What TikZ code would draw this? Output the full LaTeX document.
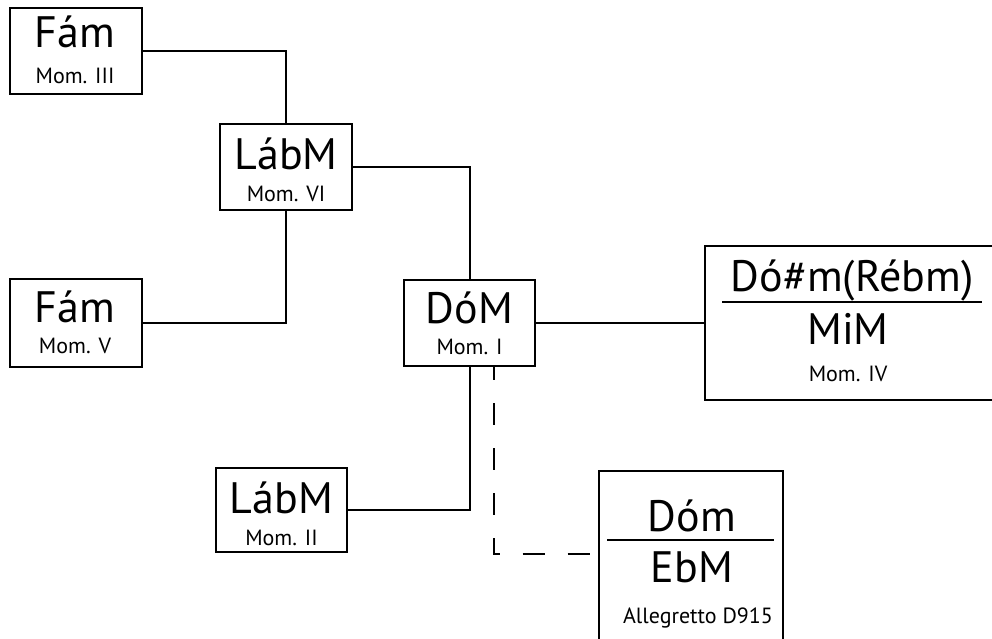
\documentclass[tikz,border=0pt]{standalone}
\usepackage{fontspec}
\setmainfont{PT Sans}
\newcommand{\keytext}{\fontsize{44}{50}\selectfont}
\newcommand{\momtext}{\fontsize{22}{26}\selectfont}
\begin{document}
\begin{tikzpicture}[x=1pt,y=-1pt,
  box/.style={draw, line width=2pt, inner sep=0pt},
  key/.style={inner sep=0pt, anchor=base, font=\keytext},
  mom/.style={inner sep=0pt, anchor=base, font=\momtext},
  link/.style={line width=2pt}]
  \useasboundingbox (0,0) rectangle (992,639);
  \clip (0,0) rectangle (992,639);
  \node[box, minimum width=132, minimum height=86] (f3) at (76,51) {};
  \node[box, minimum width=132, minimum height=86] (l6) at (286,167) {};
  \node[box, minimum width=132, minimum height=88] (f5) at (76,323) {};
  \node[box, minimum width=131, minimum height=86] (dom) at (469.5,323) {};
  \node[box, minimum width=131, minimum height=84] (l2) at (281.5,510) {};
  \node[box, minimum width=345, minimum height=154] (big) at (877.5,323) {};
  \node[box, minimum width=184, minimum height=174] (ebm) at (691,558) {};
  \node[key] (f3key) at (75,48) {Fám};
  \node[mom] (f3mom) at (75,83.5) {Mom. III};
  \node[key] (l6key) at (286,169) {LábM};
  \node[mom] (l6mom) at (286,201.5) {Mom. VI};
  \node[key] (f5key) at (75,322) {Fám};
  \node[mom] (f5mom) at (75,353.5) {Mom. V};
  \node[key] (domkey) at (469.5,323) {DóM};
  \node[mom] (dommom) at (469.5,354.5) {Mom. I};
  \node[key] (l2key) at (281.5,513) {LábM};
  \node[mom] (l2mom) at (281.5,545.5) {Mom. II};
  \node[key] (cism) at (852,291.5) {Dó\#m(Rébm)};
  \node[key] (mim) at (848,344) {MiM};
  \node[mom] (bigmom) at (848,381) {Mom. IV};
  \node[key] (dommin) at (692,531.5) {Dóm};
  \node[key] (ebkey) at (692,582) {EbM};
  \node[mom] (alleg) at (698,623) {Allegretto D915};
  \draw [link] (722,302) -- (982,302);
  \draw [link] (607,540) -- (774,540);
  \draw [link] (f3) -| (l6);
  \draw [link] (f5) -| (l6);
  \draw [link] (l6) -| (dom);
  \draw [link] (l2) -| (dom);
  \draw [link] (dom) -- (big);
  \draw [link, dash pattern=on 22pt off 23pt, dash phase=9pt] ([xshift=24pt]dom.south) |- ([yshift=4pt]ebm.west);
\end{tikzpicture}
\end{document}
